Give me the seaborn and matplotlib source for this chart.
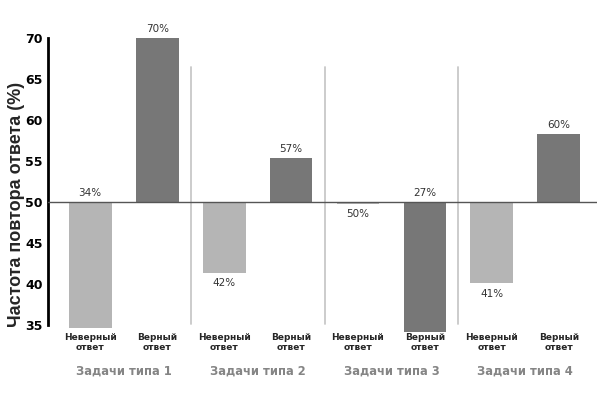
import matplotlib
matplotlib.use("Agg")
import matplotlib.pyplot as plt
import matplotlib.transforms as mtransforms
import pandas as pd
import seaborn as sns

# ---------------------------------------------------------------------------
# Data
# ---------------------------------------------------------------------------
groups = ["Задачи типа 1", "Задачи типа 2", "Задачи типа 3", "Задачи типа 4"]
answers = ["Неверный\nответ", "Верный\nответ"]
values = [34.6, 70.0, 41.4, 55.4, 49.8, 34.2, 40.1, 58.3]
bar_labels = ["34%", "70%", "42%", "57%", "50%", "27%", "41%", "60%"]
label_side = ["top", "top", "bottom", "top", "bottom", "top", "bottom", "top"]
baseline = 50
y_ticks = [35, 40, 45, 50, 55, 60, 65, 70]

kinds = ["wrong", "right"] * len(groups)
bar_ids = [f"{g} | {k}" for g in groups for k in ["wrong", "right"]]
df = pd.DataFrame({
    "bar": bar_ids,
    "kind": kinds,
    "delta": [v - baseline for v in values],
})

palette = {"wrong": "#b5b5b5", "right": "#777777"}

# ---------------------------------------------------------------------------
# Plot
# ---------------------------------------------------------------------------
sns.set_style("white")
plt.rcParams["font.family"] = ["DejaVu Sans"]

fig = plt.figure(figsize=(6.07, 4.05), dpi=100)
ax = fig.add_axes([48 / 607, 1 - 325 / 405, (597 - 48) / 607, (325 - 38) / 405])

sns.barplot(
    data=df, x="bar", y="delta", hue="kind", order=bar_ids,
    palette=palette, dodge=False, width=0.64, legend=False,
    bottom=baseline, linewidth=0, clip_on=False, ax=ax,
)

ax.set_xlim(-0.63, 7.57)
ax.set_ylim(35, 70)
ax.set_yticks(y_ticks)
ax.set_yticklabels([str(t) for t in y_ticks], fontsize=9, fontweight="bold")
ax.tick_params(axis="y", direction="out", length=3, width=1.5, pad=1, colors="black")
ax.tick_params(axis="x", length=0, pad=6)
ax.set_xticks(range(len(bar_ids)))
ax.set_xticklabels(answers * len(groups), fontsize=6.5, fontweight="bold",
                   linespacing=1.1)

for side in ["top", "right", "bottom"]:
    ax.spines[side].set_visible(False)
ax.spines["left"].set_linewidth(2)
ax.spines["left"].set_color("black")

ax.set_ylabel("Частота повтора ответа (%)", fontsize=13, fontweight="bold",
              family=["Liberation Sans", "DejaVu Sans"])
ax.yaxis.set_label_coords(-0.042, 0.42)
ax.set_xlabel("")

# baseline and group separators
ax.axhline(baseline, color="#555555", lw=1, zorder=3)
for i in range(1, len(groups)):
    ax.axvline(2 * i - 0.5, ymin=0.005, ymax=0.9, color="#c8c8c8", lw=1.3, zorder=0)

# value labels
for i, (v, lab, side) in enumerate(zip(values, bar_labels, label_side)):
    if side == "top":
        ax.annotate(lab, (i, max(v, baseline)), xytext=(0, 3),
                    textcoords="offset points", ha="center", va="bottom",
                    fontsize=7.5, color="#333333")
    else:
        ax.annotate(lab, (i, min(v, baseline)), xytext=(0, -4),
                    textcoords="offset points", ha="center", va="top",
                    fontsize=7.5, color="#333333")

# group labels below the categories
trans = mtransforms.blended_transform_factory(ax.transData, ax.transAxes)
for gi, g in enumerate(groups):
    ax.text(2 * gi + 0.5, -0.16, g, transform=trans, ha="center", va="center",
            fontsize=8.3, fontweight="bold", color="#858585")

fig.savefig("out.png", dpi=100)
